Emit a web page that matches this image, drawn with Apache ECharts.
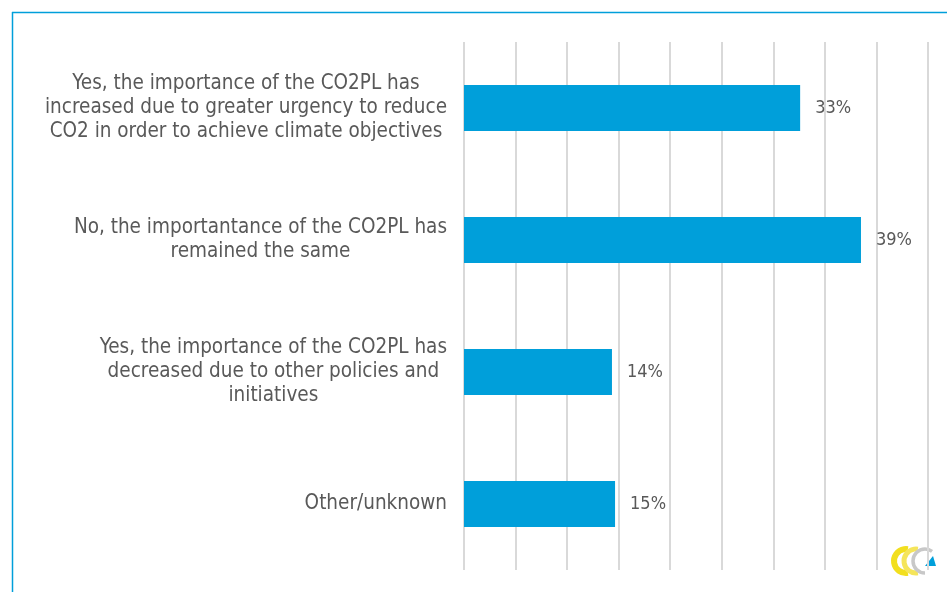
<!DOCTYPE html>
<html>
<head>
<meta charset="utf-8">
<script src="https://cdn.jsdelivr.net/npm/echarts@6/dist/echarts.min.js"></script>
<style>
html,body{margin:0;padding:0;background:#fff;}
#main{width:947px;height:592px;}
</style>
</head>
<body>
<div id="main"></div>
<script>
const categories = [
  "Yes, the importance of the CO2PL has\nincreased due to greater urgency to reduce\nCO2 in order to achieve climate objectives",
  "No, the importantance of the CO2PL has\nremained the same",
  "Yes, the importance of the CO2PL has\ndecreased due to other policies and\ninitiatives",
  "Other/unknown"
];
const values = [32.6, 38.5, 14.35, 14.65];
const axisMax = 45;
const axisStep = 5;

const FONT = '"DejaVu Sans Condensed", Tahoma, "DejaVu Sans", sans-serif';
const chart = echarts.init(document.getElementById('main'), null, {renderer: 'canvas'});
chart.setOption({
  animation: false,
  backgroundColor: '#ffffff',
  grid: {left: 464, right: 19, top: 42, bottom: 22, containLabel: false},
  xAxis: {
    type: 'value', min: 0, max: axisMax, interval: axisStep,
    axisLabel: {show: false}, axisLine: {show: false}, axisTick: {show: false},
    splitLine: {show: true, lineStyle: {color: '#d9d9d9', width: 2}}
  },
  yAxis: {
    type: 'category', inverse: true, data: categories,
    axisLine: {show: false}, axisTick: {show: false},
    axisLabel: {
      margin: 17, align: 'right',
      formatter: v => '{c|' + v + '}',
      rich: {c: {align: 'center', fontFamily: FONT, fontSize: 20.5, lineHeight: 24, color: '#595959'}}
    }
  },
  series: [{
    type: 'bar', data: values, barWidth: 46,
    itemStyle: {color: '#009FDA'},
    label: {
      show: true, position: 'right', distance: 15,
      formatter: p => Math.round(p.value) + '%',
      fontFamily: FONT, fontSize: 18, color: '#595959'
    }
  }],
  graphic: [
    {type: 'line', shape: {x1: 12, y1: 12.5, x2: 947, y2: 12.5}, style: {stroke: '#009FDA', lineWidth: 1.5}},
    {type: 'line', shape: {x1: 12.5, y1: 12, x2: 12.5, y2: 592}, style: {stroke: '#009FDA', lineWidth: 1.5}},
    {type: 'rect', shape: {x: 890, y: 533, width: 55, height: 59}, style: {fill: '#ffffff'}},
    {type: 'arc', shape: {cx: 906, cy: 561, r: 12, startAngle: Math.PI * 0.45, endAngle: Math.PI * 1.55, clockwise: true}, style: {stroke: '#F2DF1E', lineWidth: 6, fill: null}},
    {type: 'arc', shape: {cx: 916, cy: 561, r: 12, startAngle: Math.PI * 0.45, endAngle: Math.PI * 1.55, clockwise: true}, style: {stroke: '#F5E55A', lineWidth: 5, fill: null}},
    {type: 'arc', shape: {cx: 925, cy: 561, r: 12, startAngle: Math.PI * 0.5, endAngle: Math.PI * 1.7, clockwise: true}, style: {stroke: '#C8C8C8', lineWidth: 3.5, fill: null}},
    {type: 'polygon', shape: {points: [[925, 566], [936, 566], [933, 556]]}, style: {fill: '#009FDA'}}
  ]
});
</script>
</body>
</html>
